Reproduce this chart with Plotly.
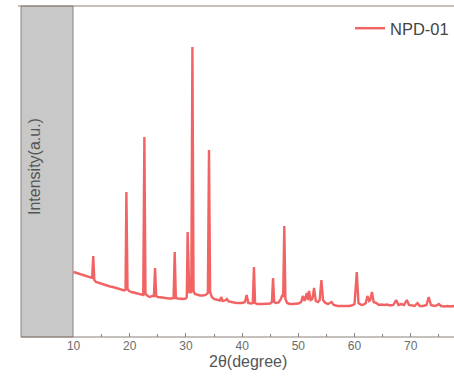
import plotly.graph_objects as go

# XRD pattern of sample NPD-01 (2θ in degrees, intensity in arbitrary units)
two_theta = [
    10.0, 10.5, 11.0, 11.5, 12.0, 12.5, 13.0, 13.3, 13.5, 13.7, 14.0, 14.5, 15.0, 15.5, 16.0,
    16.5, 17.0, 17.5, 18.0, 18.5, 19.0, 19.25, 19.4, 19.6, 19.9, 20.3, 21.0, 21.5, 22.0, 22.4,
    22.6, 22.8, 23.2, 23.6, 24.0, 24.3, 24.5, 24.7, 25.0, 25.5, 26.0, 26.5, 27.0, 27.5, 27.8,
    28.0, 28.2, 28.6, 29.0, 29.5, 30.0, 30.15, 30.3, 30.45, 30.6, 30.75, 30.95, 31.15, 31.35, 31.6,
    32.0, 32.5, 33.0, 33.5, 33.9, 34.1, 34.3, 34.6, 35.0, 35.5, 36.0, 36.3, 36.5, 37.0, 37.3,
    37.6, 38.0, 38.5, 39.0, 39.5, 40.0, 40.5, 40.8, 41.1, 41.6, 41.9, 42.1, 42.3, 42.7, 43.5,
    44.0, 44.5, 45.0, 45.3, 45.5, 45.7, 46.0, 46.5, 46.9, 47.15, 47.3, 47.5, 47.7, 48.0, 48.5,
    49.0, 49.5, 50.0, 50.5, 50.8, 51.1, 51.5, 51.7, 51.9, 52.2, 52.5, 52.8, 53.1, 53.5, 53.8,
    54.1, 54.4, 54.8, 55.3, 55.9, 56.3, 57.0, 57.5, 58.0, 58.5, 59.0, 59.5, 60.0, 60.4, 60.7,
    61.2, 61.7, 62.0, 62.3, 62.6, 62.8, 63.1, 63.4, 63.9, 64.3, 64.8, 65.3, 65.8, 66.3, 66.9,
    67.4, 67.8, 68.3, 68.8, 69.3, 69.7, 70.2, 70.7, 71.2, 71.6, 72.2, 72.8, 73.2, 73.6, 74.2,
    74.6, 75.0, 75.4, 76.0, 76.5, 77.0, 77.5, 78.0,
]
intensity = [
    65, 64, 63, 62, 61.5, 60.5, 59.5, 59, 81, 57, 55, 54, 53, 52, 51.5,
    50.5, 50, 49, 48, 47, 46.5, 47, 145, 48, 46, 45, 44, 43, 42, 42,
    200, 43, 41, 40, 41, 41, 69, 41, 40, 39.5, 39, 39, 38.5, 38.5, 39,
    85, 39, 38.5, 38, 38, 38.5, 40, 105, 50, 44, 45, 45, 290, 46, 43,
    42, 41.5, 41.5, 42, 44, 187, 45, 40, 38, 37, 36.5, 40, 36, 36.5, 38,
    35.5, 35, 34.5, 34, 34, 34, 35, 42, 34, 33.5, 34, 70, 34, 33, 33,
    33, 33, 33.5, 35, 59, 35, 34, 34.5, 38, 42, 40, 111, 38, 34, 33,
    33, 33, 33.5, 35, 41, 36, 44, 37, 46, 37, 38, 49, 36, 35, 37,
    57, 37, 34, 33, 35, 32, 31, 31, 30.5, 30.5, 31, 31.5, 33, 65, 34,
    32, 32.5, 34, 41, 36, 37, 45, 35, 34, 32, 32.5, 32, 32.5, 31.5, 32,
    37, 32, 33, 32, 37, 32, 31.5, 31, 34, 31, 31, 32, 40, 32, 31,
    31.5, 33, 31, 30.5, 31, 30.5, 31, 30.5,
]
series_name = "NPD-01"
x_tick_values = [10, 20, 30, 40, 50, 60, 70]
x_title = "2θ(degree)"
y_title = "Intensity(a.u.)"

FONT = "Liberation Sans, Arial, sans-serif"
FRAME = "#8e827b"
LINE = "#f26464"

# pixel layout helpers (plot area: x 73..454, y 6..337)
L, R, T, B = 73, 0, 6, 39
W, H = 454, 376
PW, PH = W - L - R, H - T - B


def px(xp):
    return (xp - L) / PW


def py(yp):
    return (T + PH - yp) / PH


fig = go.Figure()
fig.add_trace(go.Scatter(
    x=two_theta, y=intensity, mode="lines", name=series_name,
    line=dict(color=LINE, width=2.4), showlegend=True,
))

fig.update_layout(
    width=W, height=H,
    margin=dict(l=L, r=R, t=T, b=B, pad=0),
    paper_bgcolor="white", plot_bgcolor="white",
    font=dict(family=FONT, color="#555555"),
    showlegend=True,
    legend=dict(
        x=px(350), xanchor="left", y=py(11), yanchor="top",
        bgcolor="rgba(0,0,0,0)", borderwidth=0,
        font=dict(size=16.5, color="#444444", family=FONT),
    ),
    xaxis=dict(
        range=[9.9, 77.7], showgrid=False, zeroline=False, showline=False,
        tickmode="array", tickvals=x_tick_values,
        ticks="inside", ticklen=4, tickwidth=1, tickcolor=FRAME,
        minor=dict(dtick=5, ticks="inside", ticklen=3, tickcolor=FRAME, showgrid=False),
        tickfont=dict(size=12, color="#6b6b6b", family=FONT),
    ),
    yaxis=dict(
        range=[0, 331], showgrid=False, zeroline=False, showline=False,
        showticklabels=False, ticks="",
    ),
)

# gray band on the left and frame lines
fig.add_shape(type="rect", xref="paper", yref="paper", x0=px(21), x1=0, y0=0, y1=1,
              fillcolor="#c8c8c8", line=dict(color=FRAME, width=1), layer="below")
fig.add_shape(type="line", xref="paper", yref="paper", x0=px(18), x1=1, y0=1, y1=1,
              line=dict(color=FRAME, width=1.2))
fig.add_shape(type="line", xref="paper", yref="paper", x0=px(21), x1=1, y0=0, y1=0,
              line=dict(color=FRAME, width=1.2))

fig.add_annotation(text=x_title, xref="paper", yref="paper", x=px(247.5), y=py(361),
                   showarrow=False, xanchor="center", yanchor="middle",
                   font=dict(size=16, color="#555555", family=FONT))
fig.add_annotation(text=y_title, xref="paper", yref="paper", x=px(35), y=py(167),
                   showarrow=False, xanchor="center", yanchor="middle", textangle=-90,
                   font=dict(size=16, color="#555555", family=FONT))

fig.write_html("out.html")
